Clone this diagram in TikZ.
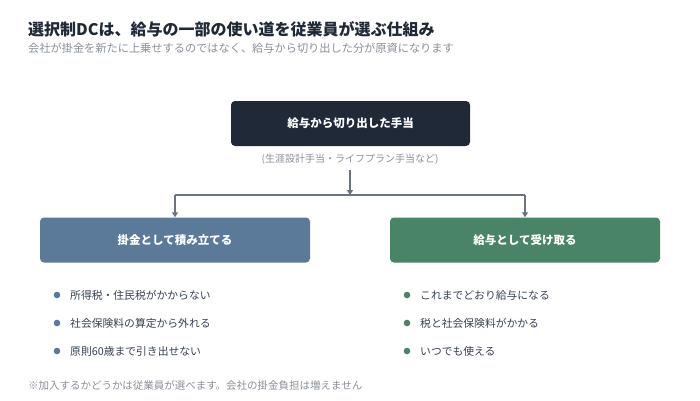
\documentclass[tikz,border=0pt]{standalone}
\usepackage{fontspec}
\setmainfont{Noto Sans CJK JP}
\usetikzlibrary{arrows.meta}
\definecolor{dark}{HTML}{1F2937}
\definecolor{blueb}{HTML}{5B7A99}
\definecolor{greenb}{HTML}{4A8466}
\definecolor{gtext}{HTML}{374151}
\definecolor{mute}{HTML}{8A9099}
\definecolor{line}{HTML}{6B7280}
\begin{document}
\begin{tikzpicture}[x=1pt,y=-1pt,
  box/.style={rounded corners=4pt,minimum height=45pt,text=white,font=\fontsize{11.5}{13}\selectfont\bfseries},
  item/.style={anchor=west,text=gtext,font=\fontsize{10.8}{12}\selectfont,inner sep=0pt},
  conn/.style={draw=line,line width=1.3pt},
  arr/.style={conn,-{Triangle[length=5pt,width=6pt]}}]
\useasboundingbox[fill=white] (0,0) rectangle (700,400);
\node[anchor=west,inner sep=0pt,font=\fontsize{16}{18}\selectfont\bfseries,text=dark] (title) at (28,29) {選択制DCは、給与の一部の使い道を従業員が選ぶ仕組み};
\node[anchor=west,inner sep=0pt,font=\fontsize{11.2}{12}\selectfont,text=mute] (sub) at (28,48) {会社が掛金を新たに上乗せするのではなく、給与から切り出した分が原資になります};
\node[box,fill=dark,minimum width=239pt] (top) at (350.5,123.5) {給与から切り出した手当};
\node[font=\fontsize{10}{11}\selectfont,text=mute] (note) at (350,159) {(生涯設計手当・ライフプラン手当など)};
\node[box,fill=blueb,minimum width=270pt] (left) at (175,240) {掛金として積み立てる};
\node[box,fill=greenb,minimum width=270pt] (right) at (525,240) {給与として受け取る};
\coordinate (j) at (350,195);
\coordinate (jl) at (175,195);
\coordinate (jr) at (525,195);
\draw[arr] (350,170) -- (j);
\draw[conn] (jl) -- (jr);
\draw[arr] (jl) -- (left.north);
\draw[arr] (jr) -- (right.north);
\foreach \t [count=\i] in {所得税・住民税がかからない,社会保険料の算定から外れる,原則60歳まで引き出せない}{
  \fill[blueb] (57,{267+28*\i}) circle (3.3pt);
  \node[item] (l\i) at (70,{267+28*\i}) {\t};}
\foreach \t [count=\i] in {これまでどおり給与になる,税と社会保険料がかかる,いつでも使える}{
  \fill[greenb] (407,{267+28*\i}) circle (3.3pt);
  \node[item] (r\i) at (420,{267+28*\i}) {\t};}
\node[anchor=west,inner sep=0pt,font=\fontsize{10.5}{11}\selectfont,text=mute] (foot) at (28,385) {※加入するかどうかは従業員が選べます。会社の掛金負担は増えません};
\end{tikzpicture}
\end{document}
